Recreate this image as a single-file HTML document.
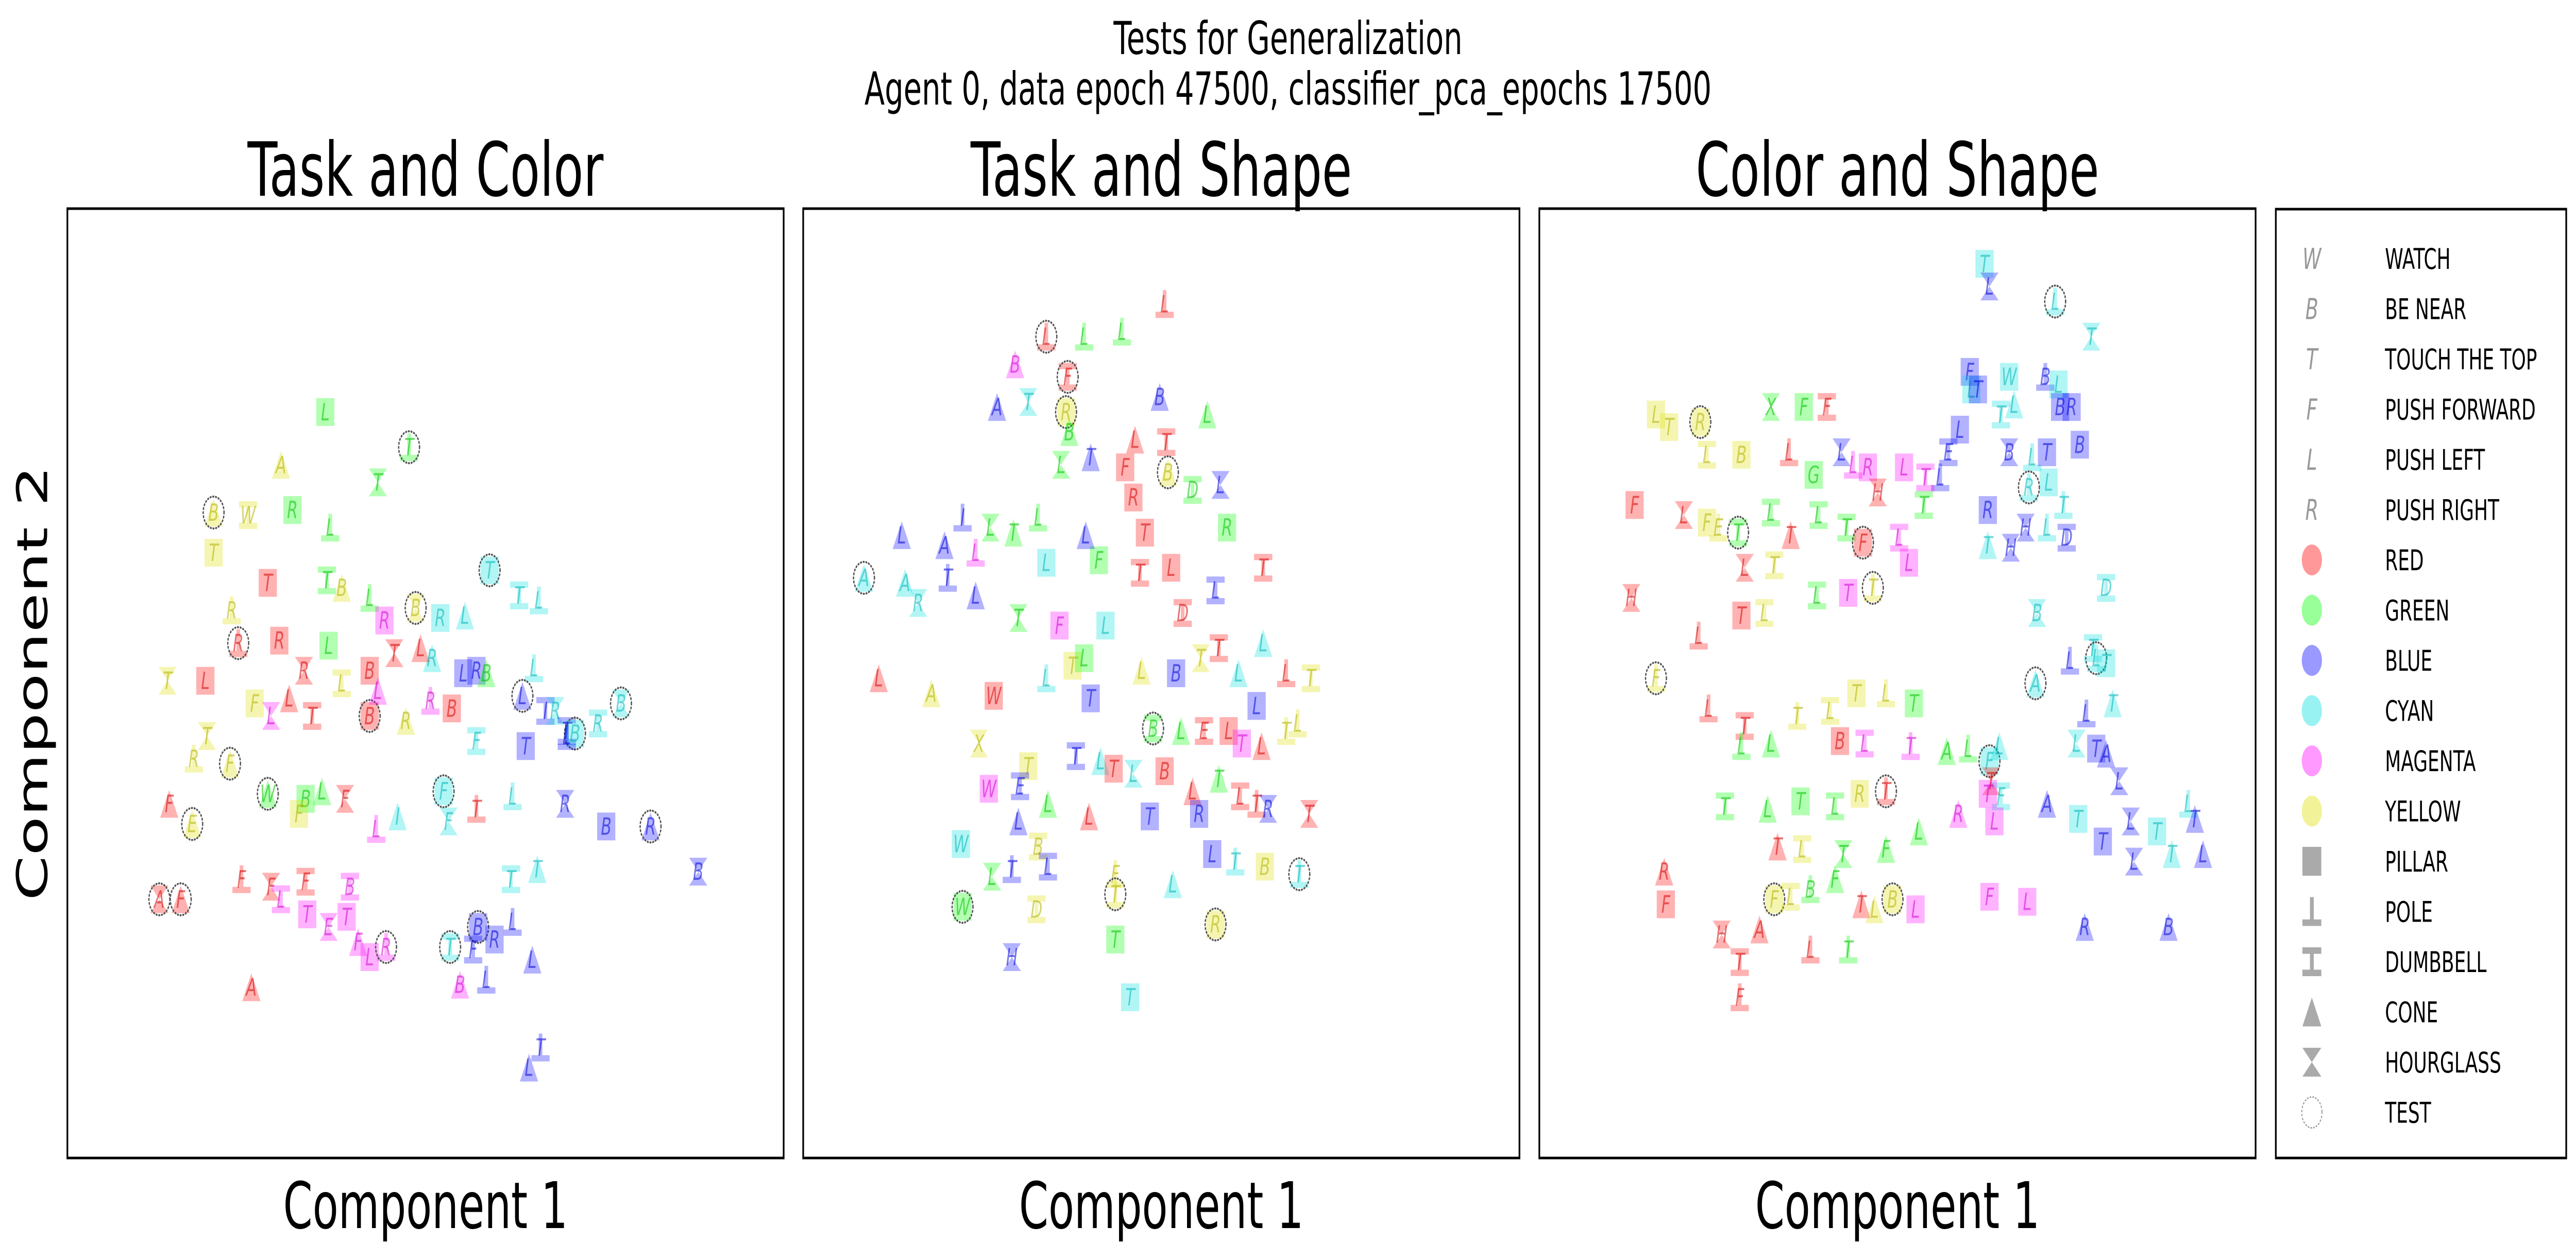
<!DOCTYPE html>
<html><head><meta charset="utf-8"><style>
html,body{margin:0;padding:0;background:#fff;width:100%;height:100%;overflow:hidden;}
svg{display:block;position:absolute;left:0;top:0;width:100vw;height:100vh;font-family:"DejaVu Sans","Liberation Sans",sans-serif;}
</style></head><body>
<svg id="fig" viewBox="0 0 7646 2446" preserveAspectRatio="none" xmlns="http://www.w3.org/2000/svg">
<rect x="0" y="0" width="7646" height="2446" fill="#fff"/>
<text x="3823" y="105" font-size="88" text-anchor="middle">Tests for Generalization</text>
<text x="3823" y="203" font-size="88" text-anchor="middle">Agent 0, data epoch 47500, classifier_pca_epochs 17500</text>
<g id="panels"></g>
<g id="legend"></g>
</svg>
<script>
const panelTitles = ['Task and Color','Task and Shape','Color and Shape'];
const xDomains = [[41,477],[489,925],[937,1373]];
const yDomain = [83,461];
// [comp1, comp2, color, shape, letter, test]
const p1Points = [[198,164,'g','P','L',0],[249,178,'g','O','T',1],[171,185,'y','C','A',0],[230,192,'g','H','T',0],[130,204,'y','C','B',1],[178,203,'g','P','R',0],[151,205,'y','D','W',0],[130,220,'y','P','T',0],[201,210,'g','O','L',0],[141,243,'y','O','R',0],[163,232,'r','P','T',0],[199,231,'g','D','T',0],[208,234,'y','C','B',0],[225,238,'g','O','L',0],[234,247,'m','P','R',0],[253,242,'y','H','B',1],[268,246,'c','P','R',0],[283,245,'c','C','L',0],[298,227,'c','P','T',1],[316,237,'c','D','T',0],[328,239,'c','O','L',0],[263,262,'c','C','R',0],[282,268,'b','P','L',0],[290,267,'b','P','R',0],[296,268,'g','C','B',0],[325,266,'c','O','L',0],[332,283,'b','D','I',0],[338,283,'c','H','R',0],[345,291,'b','D','T',0],[350,292,'c','P','B',1],[364,288,'c','D','R',0],[378,280,'c','H','B',1],[102,271,'y','H','T',0],[125,271,'r','P','L',0],[145,256,'r','O','R',1],[170,255,'r','P','R',0],[185,267,'r','H','R',0],[200,257,'g','P','L',0],[208,272,'y','D','L',0],[225,267,'r','P','B',0],[240,260,'r','H','T',0],[256,258,'r','C','L',0],[155,280,'y','P','F',0],[165,285,'m','H','L',0],[176,278,'r','C','L',0],[190,285,'r','D','T',0],[225,285,'r','P','B',1],[230,275,'m','C','L',0],[247,287,'y','C','R',0],[262,279,'m','O','R',0],[275,282,'r','P','B',0],[290,295,'c','D','F',0],[320,297,'b','P','T',0],[318,277,'b','C','L',1],[345,293,'b','O','L',0],[140,304,'y','C','F',1],[118,302,'y','O','R',0],[126,293,'y','H','T',0],[163,316,'g','C','W',1],[186,318,'g','P','B',0],[196,315,'g','C','L',0],[182,324,'y','P','F',0],[210,318,'r','H','F',0],[229,330,'m','O','L',0],[242,325,'c','C','I',0],[270,315,'c','P','F',1],[273,327,'c','H','F',0],[290,322,'r','O','T',0],[312,317,'c','O','L',0],[344,320,'b','H','R',0],[369,329,'b','P','B',0],[396,329,'b','C','R',1],[103,320,'r','C','F',0],[117,328,'y','C','E',1],[97,358,'r','H','A',1],[147,350,'r','O','F',0],[165,353,'r','H','F',0],[186,351,'r','D','F',0],[213,353,'m','D','B',0],[211,365,'m','P','T',0],[187,364,'m','P','T',0],[200,369,'m','H','E',0],[218,375,'m','C','F',0],[225,381,'m','P','L',0],[235,377,'m','O','R',1],[171,358,'m','D','L',0],[110,358,'r','C','F',1],[274,377,'c','D','T',1],[291,369,'b','P','B',1],[301,374,'b','P','R',0],[288,378,'b','D','F',0],[296,390,'b','O','L',0],[280,392,'m','C','B',0],[312,367,'b','O','L',0],[324,382,'b','C','L',0],[327,346,'c','C','T',0],[311,350,'c','D','T',0],[425,347,'b','H','B',0],[153,393,'r','C','A',0],[329,417,'b','O','T',0],[322,425,'b','C','L',0]];
const p2Points = [[637,134,'r','O','L',1],[660,134,'g','O','L',0],[683,132,'g','O','L',0],[709,121,'r','O','L',0],[618,145,'m','C','B',0],[650,150,'r','D','F',1],[649,164,'y','P','R',1],[651,172,'g','C','B',0],[706,158,'b','C','B',0],[735,165,'g','C','L',0],[607,162,'b','C','A',0],[626,160,'c','H','T',0],[646,185,'g','H','L',0],[664,182,'b','C','T',0],[685,186,'r','P','F',0],[691,175,'r','C','L',0],[710,176,'r','D','T',0],[711,188,'y','C','B',1],[690,198,'r','P','R',0],[697,212,'r','P','T',0],[726,195,'g','D','D',0],[743,193,'b','H','L',0],[747,210,'g','P','R',0],[669,223,'g','P','F',0],[661,213,'b','C','L',0],[637,224,'c','P','L',0],[632,206,'g','O','L',0],[586,206,'b','O','I',0],[575,217,'b','C','A',0],[603,210,'g','H','L',0],[617,212,'g','C','T',0],[594,220,'m','O','L',0],[551,232,'c','C','A',0],[549,213,'b','C','L',0],[577,230,'b','O','T',0],[526,230,'c','C','A',1],[559,240,'c','H','R',0],[594,237,'b','C','L',0],[620,246,'g','H','T',0],[645,249,'m','P','F',0],[673,249,'c','P','L',0],[694,228,'r','D','T',0],[713,226,'r','P','L',0],[720,244,'r','D','D',0],[740,235,'b','D','L',0],[769,226,'r','D','T',0],[742,258,'r','D','T',0],[769,256,'c','C','L',0],[783,268,'r','O','L',0],[798,270,'y','D','T',0],[790,288,'y','O','L',0],[605,277,'r','P','W',0],[637,270,'c','O','L',0],[653,265,'y','P','T',0],[660,262,'g','P','L',0],[664,278,'b','P','T',0],[695,267,'y','C','L',0],[716,268,'b','P','B',0],[731,262,'y','H','T',0],[754,268,'c','C','L',0],[765,281,'b','P','L',0],[702,290,'g','D','B',1],[719,291,'g','C','L',0],[733,291,'r','D','E',0],[748,291,'r','P','L',0],[756,296,'m','P','T',0],[768,297,'r','C','L',0],[783,291,'y','O','T',0],[535,270,'r','C','L',0],[567,276,'y','C','A',0],[596,296,'y','H','X',0],[626,305,'y','P','T',0],[638,320,'g','C','L',0],[655,301,'b','D','T',0],[670,303,'c','C','L',0],[678,306,'r','P','T',0],[690,308,'c','H','L',0],[709,307,'r','P','B',0],[726,315,'r','C','L',0],[742,310,'g','C','T',0],[755,317,'r','D','L',0],[765,320,'r','O','T',0],[772,322,'b','H','R',0],[797,324,'r','H','T',0],[602,314,'m','P','W',0],[621,313,'b','D','E',0],[620,327,'b','C','L',0],[585,336,'c','P','W',0],[632,337,'y','D','B',0],[663,325,'r','C','L',0],[700,325,'b','P','T',0],[730,324,'b','P','R',0],[738,340,'b','P','L',0],[752,343,'c','O','T',0],[770,345,'y','P','B',0],[791,348,'c','O','T',1],[604,349,'g','H','L',0],[616,346,'b','O','T',0],[638,345,'b','D','L',0],[679,348,'y','O','F',0],[586,361,'g','P','W',1],[631,362,'y','D','D',0],[679,356,'y','O','T',1],[714,352,'c','C','L',0],[740,368,'y','P','R',1],[616,381,'b','H','H',0],[679,374,'g','P','T',0],[688,397,'c','P','T',0]];
const p3Points = [[1208,105,'c','P','T',0],[1211,114,'b','H','L',0],[1251,120,'c','O','L',1],[1273,134,'c','H','T',0],[1199,148,'b','P','F',0],[1200,155,'c','P','L',0],[1204,155,'b','P','T',0],[1223,150,'c','P','W',0],[1245,150,'b','O','B',0],[1253,153,'c','P','L',0],[1261,162,'b','P','R',0],[1254,162,'b','P','B',0],[1226,161,'c','C','L',0],[1218,165,'c','D','T',0],[1193,171,'b','P','L',0],[1186,180,'b','D','E',0],[1181,190,'b','O','L',0],[1223,180,'b','H','B',0],[1237,182,'c','O','L',0],[1246,180,'b','P','T',0],[1266,177,'b','P','B',0],[1235,194,'c','O','R',1],[1210,203,'b','P','R',0],[1247,192,'c','P','L',0],[1256,201,'c','O','T',0],[1233,210,'b','H','H',0],[1246,210,'c','O','L',0],[1210,217,'c','C','T',0],[1224,218,'b','H','H',0],[1258,214,'b','D','D',0],[1240,244,'c','H','B',0],[1282,234,'c','D','D',0],[1260,263,'b','O','L',0],[1274,258,'c','D','T',0],[1276,262,'c','O','L',1],[1282,264,'c','P','T',0],[1239,272,'c','C','A',1],[1270,284,'b','O','L',0],[1286,280,'c','C','T',0],[1264,296,'c','H','L',0],[1276,298,'b','P','T',0],[1282,300,'b','C','A',0],[1290,311,'b','H','L',0],[1265,326,'c','P','T',0],[1297,327,'b','H','L',0],[1313,331,'c','P','T',0],[1332,320,'c','O','L',0],[1336,326,'b','C','T',0],[1341,340,'b','C','L',0],[1322,340,'c','C','T',0],[1299,343,'b','H','L',0],[1280,335,'b','P','T',0],[1246,320,'b','C','A',0],[1218,317,'c','D','F',0],[1211,303,'c','P','F',1],[1269,369,'b','C','R',0],[1320,369,'b','C','B',0],[1008,165,'y','P','L',0],[1035,168,'y','P','R',1],[1016,170,'y','P','T',0],[1039,181,'y','D','L',0],[1060,181,'y','P','B',0],[1078,162,'g','H','X',0],[1098,162,'g','P','F',0],[1112,162,'r','D','F',0],[1089,180,'r','O','L',0],[1104,189,'g','P','G',0],[1121,180,'b','H','L',0],[1137,186,'m','P','R',0],[1128,185,'m','O','L',0],[1159,186,'m','P','L',0],[1172,190,'m','D','T',0],[1143,196,'r','H','H',0],[1107,205,'g','D','L',0],[1124,210,'g','D','T',0],[1134,216,'r','P','F',1],[1156,214,'m','D','L',0],[1162,224,'m','P','L',0],[1171,201,'g','D','T',0],[1078,204,'g','D','L',0],[1090,213,'r','C','T',0],[1058,212,'g','D','T',1],[1039,208,'y','P','F',0],[1025,205,'r','H','L',0],[1046,210,'y','O','E',0],[1062,226,'r','H','L',0],[1080,225,'y','D','T',0],[1106,237,'g','D','L',0],[1125,236,'m','P','T',0],[1140,234,'y','O','T',1],[1074,244,'y','D','L',0],[1060,245,'r','P','T',0],[1034,253,'r','O','L',0],[995,201,'r','P','F',0],[993,238,'r','H','H',0],[1008,270,'y','O','F',1],[1040,282,'r','O','L',0],[1062,289,'r','D','T',0],[1078,296,'g','C','L',0],[1094,285,'y','O','T',0],[1114,283,'y','D','L',0],[1130,276,'y','P','T',0],[1148,276,'y','O','L',0],[1165,280,'g','P','T',0],[1120,295,'r','P','B',0],[1135,296,'m','D','L',0],[1163,297,'m','O','T',0],[1185,299,'g','C','A',0],[1198,298,'g','O','L',0],[1212,311,'r','H','T',0],[1217,297,'c','C','L',0],[1148,315,'r','O','T',1],[1132,316,'y','P','R',0],[1117,321,'g','D','L',0],[1096,319,'g','P','T',0],[1076,322,'g','C','L',0],[1050,321,'g','D','T',0],[1060,297,'g','O','L',0],[1082,337,'r','C','T',0],[1097,338,'y','D','L',0],[1122,340,'g','H','T',0],[1148,338,'g','C','F',0],[1168,331,'g','C','L',0],[1192,324,'m','C','R',0],[1210,316,'m','P','T',0],[1214,327,'m','P','L',0],[1133,360,'r','C','T',0],[1152,358,'y','P','B',1],[1141,362,'y','C','L',0],[1102,354,'g','O','B',0],[1117,350,'g','C','F',0],[1080,358,'y','P','F',1],[1090,357,'y','D','L',0],[1013,347,'r','C','R',0],[1014,360,'r','P','F',0],[1048,372,'r','H','H',0],[1059,383,'r','D','T',0],[1071,370,'r','C','A',0],[1102,378,'r','O','L',0],[1125,378,'g','O','T',0],[1166,362,'m','P','L',0],[1211,357,'m','P','F',0],[1234,359,'m','P','L',0],[1059,397,'r','O','F',0]];
const legendLabels = ['WATCH','BE NEAR','TOUCH THE TOP','PUSH FORWARD','PUSH LEFT','PUSH RIGHT','RED','GREEN','BLUE','CYAN','MAGENTA','YELLOW','PILLAR','POLE','DUMBBELL','CONE','HOURGLASS','TEST'];
const legendSymbols = ['W','B','T','F','L','R','r','g','b','c','m','y','P','O','D','C','H','test'];

const NS='http://www.w3.org/2000/svg';
const FILL={r:'#ff0000',g:'#00ff00',b:'#0000ff',c:'#00dede',m:'#ff00ff',y:'#dede00'};
const INK={r:'#d40000',g:'#00c000',b:'#0000d8',c:'#00b4b4',m:'#d000d0',y:'#b0b000'};
const PX=[200,2384,4569], PW=2126, PY=405, PH=1843, HS=27;
function el(tag,attrs,parent){const e=document.createElementNS(NS,tag);for(const k in attrs)e.setAttribute(k,attrs[k]);parent.appendChild(e);return e;}
function xScale(i,v){const d=xDomains[i];return PX[i]+(v-d[0])/(d[1]-d[0])*PW;}
function yScale(v){return PY+(v-yDomain[0])/(yDomain[1]-yDomain[0])*PH;}
function shape(g,s,cx,cy,h,fill,op){
  let d;
  if(s==='P') d=`M${cx-h},${cy-h}h${2*h}v${2*h}h${-2*h}z`;
  else if(s==='O') d=`M${cx-h},${cy+0.55*h}h${2*h}v${0.45*h}h${-2*h}zM${cx-0.2*h},${cy-h}h${0.4*h}v${1.55*h}h${-0.4*h}z`;
  else if(s==='D') d=`M${cx-h},${cy-h}h${2*h}v${0.45*h}h${-2*h}zM${cx-h},${cy+0.55*h}h${2*h}v${0.45*h}h${-2*h}zM${cx-0.2*h},${cy-0.55*h}h${0.4*h}v${1.1*h}h${-0.4*h}z`;
  else if(s==='C') d=`M${cx},${cy-h}L${cx+h},${cy+h}L${cx-h},${cy+h}z`;
  else d=`M${cx-h},${cy-h}h${2*h}L${cx},${cy}zM${cx-h},${cy+h}h${2*h}L${cx},${cy}z`;
  return el('path',{d:d,fill:fill,'fill-opacity':op},g);
}
const panelsG=document.getElementById('panels');
const allPts=[p1Points,p2Points,p3Points];
for(let i=0;i<3;i++){
  const g=el('g',{},panelsG);
  
  
  const t=el('text',{x:PX[i]+PW/2,y:380,'font-size':145,'text-anchor':'middle'},g);
  t.textContent=panelTitles[i];
  
  
  const xl=el('text',{x:PX[i]+PW/2,y:2384,'font-size':125,'text-anchor':'middle'},g);
  xl.textContent='Component 1';
  
  
  const pts=el('g',{},g);
  
  
  for(const p of allPts[i]){
    const cx=xScale(i,p[0]), cy=yScale(p[1]);
    const mg=el('g',{},pts);
    
    
    shape(mg,p[3],cx,cy,HS,FILL[p[2]],0.3);
    const lt=el('text',{x:cx,y:cy+16,'font-size':46,'font-style':'oblique','text-anchor':'middle',fill:INK[p[2]],'fill-opacity':0.55},mg);
    lt.textContent=p[4];
    if(p[5]) el('circle',{cx:cx,cy:cy,r:31,fill:'none',stroke:'#555','stroke-width':4,'stroke-dasharray':'2 6','stroke-linecap':'round'},mg);
  }
  const fr=el('rect',{x:PX[i],y:PY,width:PW,height:PH,fill:'none',stroke:'#000','stroke-width':5},g);
  
  
}
const yl=el('text',{x:0,y:0,'font-size':125,'text-anchor':'middle',transform:'translate(140,1326) rotate(-90)'},panelsG);
yl.textContent='Component 2';



const lg=document.getElementById('legend');
const lf=el('rect',{x:6755,y:406,width:862,height:1842,fill:'#fff',stroke:'#000','stroke-width':5},lg);


for(let k=0;k<legendLabels.length;k++){
  const cy=502+k*97.5, cx=6862, sym=legendSymbols[k];
  const eg=el('g',{},lg);
  
  
  if(k<6){const t=el('text',{x:cx,y:cy+20,'font-size':56,'font-style':'oblique','text-anchor':'middle',fill:'#999'},eg);t.textContent=sym;}
  else if(k<12){el('circle',{cx:cx,cy:cy,r:30,fill:FILL[sym],'fill-opacity':0.4},eg);}
  else if(k<17){shape(eg,sym,cx,cy,28,'#aaa',1);}
  else {el('circle',{cx:cx,cy:cy,r:30,fill:'none',stroke:'#999','stroke-width':3,'stroke-dasharray':'2 6','stroke-linecap':'round'},eg);}
  const tx=el('text',{x:7079,y:cy+20,'font-size':55},eg);
  tx.textContent=legendLabels[k];
}
</script>
</body></html>
